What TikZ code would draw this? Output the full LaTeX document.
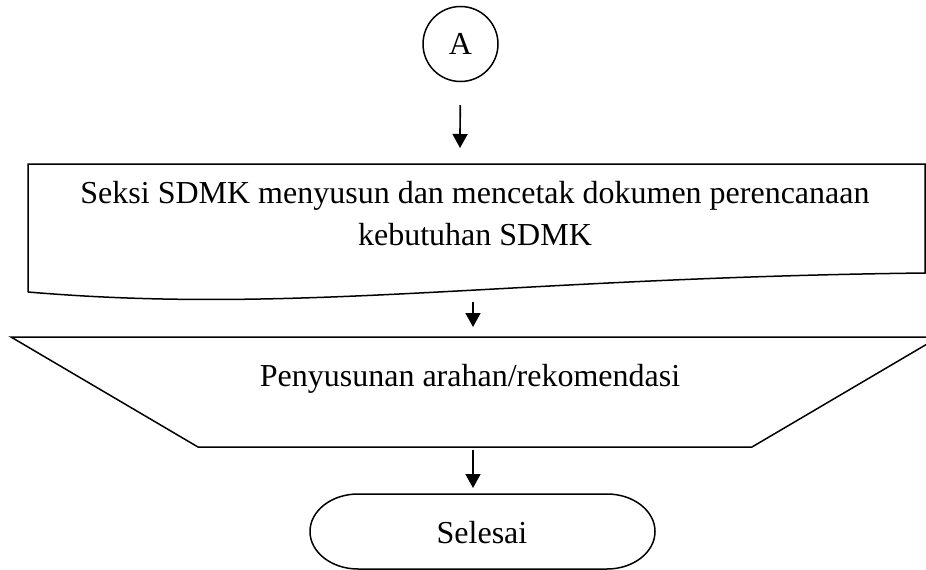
\documentclass[tikz,border=0pt]{standalone}
\usepackage{fontspec}
\setmainfont{Liberation Serif}
\usetikzlibrary{arrows.meta}

\begin{document}
\begin{tikzpicture}[x=1pt,y=-1pt,line width=1.5pt,
  txt/.style={font=\fontsize{32}{42}\selectfont},
  flow/.style={-{Triangle[length=14pt,width=15pt]},line width=1.7pt}]
\useasboundingbox (0,0) rectangle (926,570);

% connector A
\node[draw,circle,minimum size=75pt,inner sep=0pt,txt] (conA) at (460.5,44) {A};
\coordinate (tipA) at (460,148);
\draw[flow,shorten <=23pt] (conA) -- (tipA);

% dokumen
\draw (28,292) -- (28,164) -- (925,164) -- (925,273) .. controls (500,278) and (300,315) .. (28,292);
\node[txt,align=center] (dok) at (475,214) {Seksi SDMK menyusun dan mencetak dokumen perencanaan\\kebutuhan SDMK};

\coordinate (outDok) at (473,302);
\coordinate (inRek) at (473,327);
\draw[flow] (outDok) -- (inRek);

% manual operation
\draw (11,337) -- (939,337) -- (752,447) -- (198,447) -- cycle;
\node[txt,anchor=base] (rek) at (470,386) {Penyusunan arahan/rekomendasi};

\coordinate (outRek) at (473,450);
\coordinate (inEnd) at (473,488);
\draw[flow] (outRek) -- (inEnd);

% terminator
\draw (358,494) -- (607,494) arc[start angle=-90,end angle=90,x radius=48,y radius=37.5]
  -- (358,569) arc[start angle=90,end angle=270,x radius=48,y radius=37.5] -- cycle;
\node[txt,anchor=base] (selesai) at (482,543) {Selesai};

\end{tikzpicture}
\end{document}
